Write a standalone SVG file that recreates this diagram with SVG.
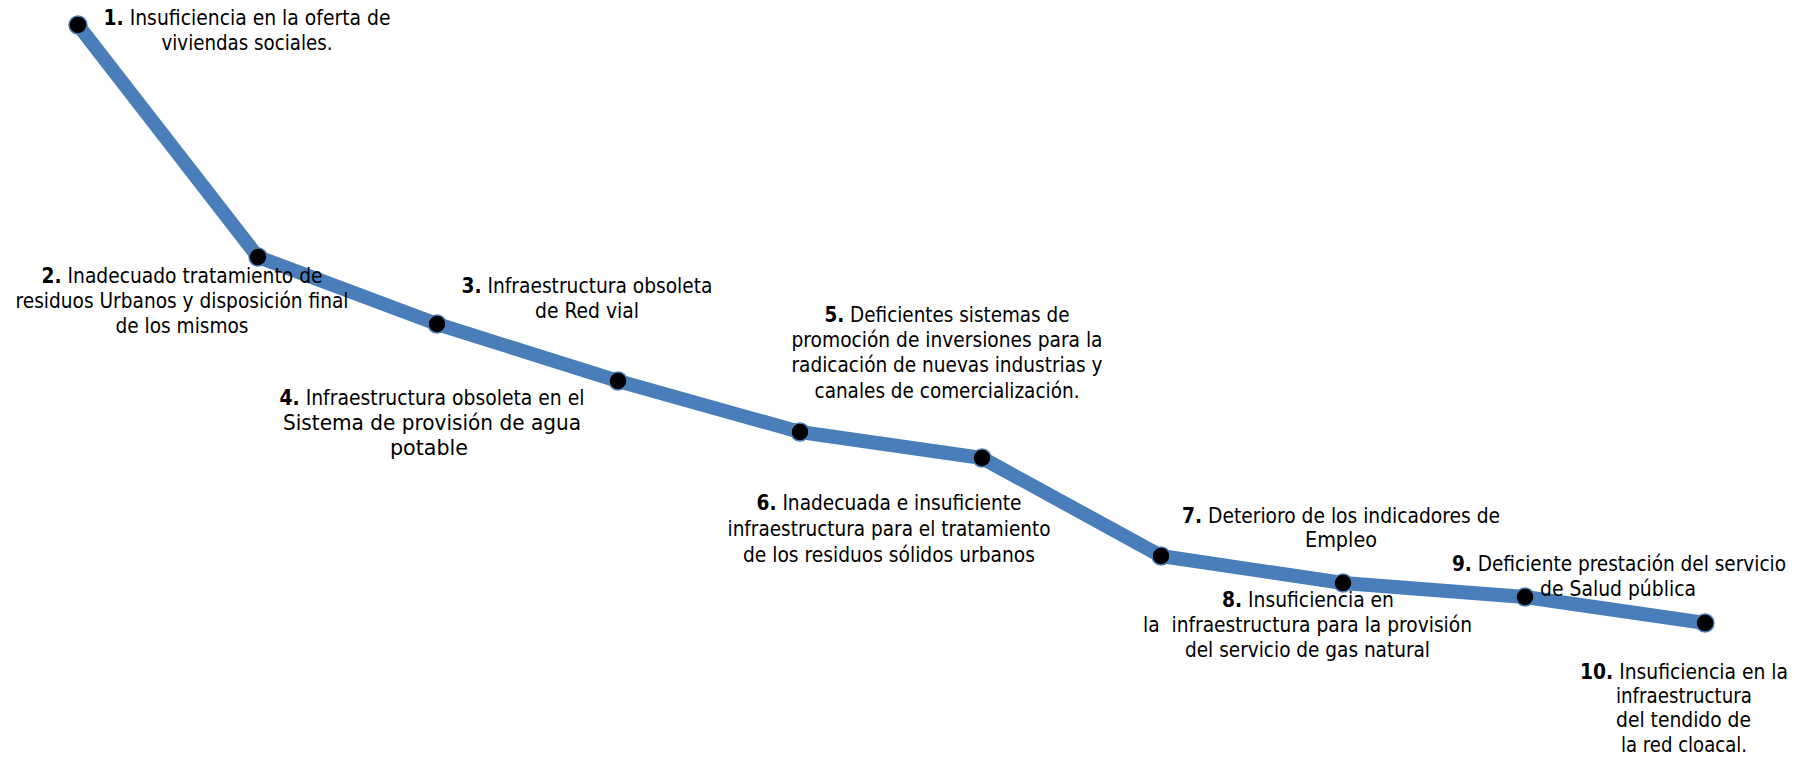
<svg xmlns="http://www.w3.org/2000/svg" width="1805" height="763" viewBox="0 0 1805 763">
<style>
.bg{fill:#ffffff}
.conn{fill:none;stroke:#4A7EBB;stroke-width:14;stroke-linejoin:round;stroke-linecap:round}
.dot{fill:#000000;stroke:#4A7EBB;stroke-width:1.5}
.lbl{font-family:"DejaVu Sans","Liberation Sans",sans-serif;font-size:20.5px;fill:#000000;text-anchor:middle}
.b{font-weight:bold}
.pre{white-space:pre}
</style>
<rect class="bg" x="0" y="0" width="1805" height="763"/>
<g id="connectors">
<polyline class="conn" points="78,25 258,257 437,324 618,381 800,432 982,458 1161,556 1343,583 1525,597 1705,623"/>
</g>
<g id="node1">
<circle class="dot" cx="78" cy="25" r="9"/>
<text class="lbl" x="247" y="25" textLength="287" lengthAdjust="spacingAndGlyphs"><tspan class="b">1.</tspan> Insuficiencia en la oferta de</text>
<text class="lbl" x="247" y="50" textLength="171" lengthAdjust="spacingAndGlyphs">viviendas sociales.</text>
</g>
<g id="node2">
<circle class="dot" cx="258" cy="257" r="9"/>
<text class="lbl" x="182" y="283" textLength="281" lengthAdjust="spacingAndGlyphs"><tspan class="b">2.</tspan> Inadecuado tratamiento de</text>
<text class="lbl" x="182" y="308" textLength="333" lengthAdjust="spacingAndGlyphs">residuos Urbanos y disposición final</text>
<text class="lbl" x="182" y="333" textLength="133" lengthAdjust="spacingAndGlyphs">de los mismos</text>
</g>
<g id="node3">
<circle class="dot" cx="437" cy="324" r="9"/>
<text class="lbl" x="587" y="293" textLength="251" lengthAdjust="spacingAndGlyphs"><tspan class="b">3.</tspan> Infraestructura obsoleta</text>
<text class="lbl" x="587" y="318" textLength="104" lengthAdjust="spacingAndGlyphs">de Red vial</text>
</g>
<g id="node4">
<circle class="dot" cx="618" cy="381" r="9"/>
<text class="lbl" x="432" y="405" textLength="305" lengthAdjust="spacingAndGlyphs"><tspan class="b">4.</tspan> Infraestructura obsoleta en el</text>
<text class="lbl" x="432" y="430" textLength="298" lengthAdjust="spacingAndGlyphs">Sistema de provisión de agua</text>
<text class="lbl" x="429" y="455" textLength="78" lengthAdjust="spacingAndGlyphs">potable</text>
</g>
<g id="node5">
<circle class="dot" cx="800" cy="432" r="9"/>
<text class="lbl" x="947" y="322" textLength="245" lengthAdjust="spacingAndGlyphs"><tspan class="b">5.</tspan> Deficientes sistemas de</text>
<text class="lbl" x="947" y="347" textLength="311" lengthAdjust="spacingAndGlyphs">promoción de inversiones para la</text>
<text class="lbl" x="947" y="372" textLength="311" lengthAdjust="spacingAndGlyphs">radicación de nuevas industrias y</text>
<text class="lbl" x="947" y="398" textLength="265" lengthAdjust="spacingAndGlyphs">canales de comercialización.</text>
</g>
<g id="node6">
<circle class="dot" cx="982" cy="458" r="9"/>
<text class="lbl" x="889" y="510" textLength="265" lengthAdjust="spacingAndGlyphs"><tspan class="b">6.</tspan> Inadecuada e insuficiente</text>
<text class="lbl" x="889" y="536" textLength="323" lengthAdjust="spacingAndGlyphs">infraestructura para el tratamiento</text>
<text class="lbl" x="889" y="562" textLength="292" lengthAdjust="spacingAndGlyphs">de los residuos sólidos urbanos</text>
</g>
<g id="node7">
<circle class="dot" cx="1161" cy="556" r="9"/>
<text class="lbl" x="1341" y="523" textLength="318" lengthAdjust="spacingAndGlyphs"><tspan class="b">7.</tspan> Deterioro de los indicadores de</text>
<text class="lbl" x="1341" y="547" textLength="72" lengthAdjust="spacingAndGlyphs">Empleo</text>
</g>
<g id="node8">
<circle class="dot" cx="1343" cy="583" r="9"/>
<text class="lbl" x="1308" y="607" textLength="172" lengthAdjust="spacingAndGlyphs"><tspan class="b">8.</tspan> Insuficiencia en</text>
<text class="lbl pre" x="1307.5" y="632" textLength="329" lengthAdjust="spacingAndGlyphs">la  infraestructura para la provisión</text>
<text class="lbl" x="1307.5" y="657" textLength="245" lengthAdjust="spacingAndGlyphs">del servicio de gas natural</text>
</g>
<g id="node9">
<circle class="dot" cx="1525" cy="597" r="9"/>
<text class="lbl" transform="translate(1619,571) scale(0.85,1)" x="0" y="0" textLength="393" lengthAdjust="spacingAndGlyphs"><tspan class="b">9.</tspan> Deficiente prestación del servicio</text>
<text class="lbl" x="1618" y="596" textLength="156" lengthAdjust="spacingAndGlyphs">de Salud pública</text>
</g>
<g id="node10">
<circle class="dot" cx="1705" cy="623" r="9"/>
<text class="lbl" x="1684" y="679" textLength="208" lengthAdjust="spacingAndGlyphs"><tspan class="b">10.</tspan> Insuficiencia en la</text>
<text class="lbl" x="1684" y="703" textLength="136" lengthAdjust="spacingAndGlyphs">infraestructura</text>
<text class="lbl" x="1683.5" y="727" textLength="135" lengthAdjust="spacingAndGlyphs">del tendido de</text>
<text class="lbl" x="1684" y="752" textLength="126" lengthAdjust="spacingAndGlyphs">la red cloacal.</text>
</g>
</svg>
